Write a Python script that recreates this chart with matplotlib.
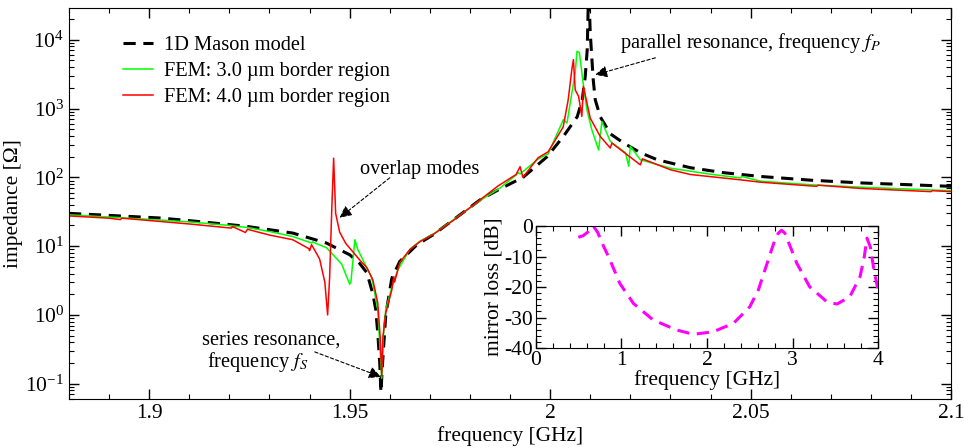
import matplotlib
matplotlib.use("Agg")
import matplotlib.pyplot as plt
from matplotlib.ticker import MultipleLocator, FuncFormatter, LogLocator

plt.rcParams['font.family'] = ['Liberation Serif', 'DejaVu Serif']
plt.rcParams['mathtext.fontset'] = 'stix'
plt.rcParams['axes.unicode_minus'] = False
plt.rcParams['font.size'] = 15.5

# 1D Mason model (frequency in GHz, impedance in Ohm)
mason_f = [1.880, 1.890, 1.9025, 1.910, 1.924, 1.9358, 1.9442, 1.950,
           1.9525, 1.9543, 1.9558, 1.9565, 1.957, 1.9575, 1.9578, 1.9582, 1.9587, 1.959,
           1.9605, 1.9625, 1.9668, 1.9708, 1.9758, 1.9825, 1.9875, 1.99325, 1.99925, 2.00325,
           2.00675, 2.008, 2.00875, 2.00925, 2.0096, 2.010, 2.01075, 2.01125, 2.0125, 2.015,
           2.01825, 2.0225, 2.02675, 2.035, 2.04325, 2.0525, 2.065, 2.0775, 2.090, 2.100]
mason_z = [30, 28, 25.7, 23.5, 19.5, 15.5, 11.1, 7.5,
           5.6, 4.1, 2.0, 1.2, 0.55, 0.2, 0.075, 0.2, 0.55, 1.0,
           3.4, 6.0, 10.5, 14.6, 24, 47, 68, 100, 200, 390,
           760, 1340, 2900, 7200, 60000, 12600, 2600, 1340, 760, 430,
           318, 228, 180, 138, 117, 103, 91, 83, 78, 74]

# FEM: 3.0 um border region
fem3_f = [1.880, 1.890, 1.9025, 1.910, 1.920, 1.925, 1.930, 1.9358, 1.9405, 1.9408,
          1.9415, 1.9442, 1.948, 1.9500, 1.9503, 1.9513, 1.952, 1.9535, 1.9555, 1.957,
          1.9576, 1.958, 1.9584, 1.959, 1.9605, 1.962, 1.965, 1.9675, 1.971, 1.976,
          1.9825, 1.9875, 1.9915, 1.992, 1.9925, 1.997, 1.9995, 2.0033, 2.0042, 2.005,
          2.00625, 2.0067, 2.0073, 2.00833, 2.00917, 2.0104, 2.0121, 2.0129, 2.015, 2.0188,
          2.0196, 2.0200, 2.0225, 2.030, 2.040, 2.0475, 2.0478, 2.0525, 2.065, 2.0775,
          2.094, 2.100]
fem3_z = [28.5, 26.5, 24, 22.5, 20, 18.5, 16.3, 13.8, 11.1, 11.6,
          11.0, 9.5, 5.5, 2.8, 3.0, 12.4, 9, 6, 3.5, 1.2,
          0.3, 0.12, 0.5, 1.2, 2.5, 4.5, 9, 11.8, 15.2, 24.5,
          46, 70, 108, 118, 112, 185, 220, 690, 617, 1200,
          3300, 6800, 6500, 2100, 960, 490, 250, 650, 333, 228,
          145, 283, 180, 136, 111, 98, 103, 88, 78, 72,
          66, 64]

# FEM: 4.0 um border region
fem4_f = [1.880, 1.890, 1.8928, 1.8932, 1.9025, 1.910, 1.9205, 1.9208, 1.924, 1.9245,
          1.930, 1.9358, 1.9398, 1.9400, 1.9405, 1.9425, 1.9438, 1.9445, 1.9450, 1.9455,
          1.9460, 1.9465, 1.9475, 1.949, 1.9525, 1.9543, 1.9558, 1.9570, 1.9576, 1.958,
          1.9583, 1.959, 1.9605, 1.961, 1.9612, 1.9625, 1.965, 1.9675, 1.971, 1.976,
          1.9825, 1.987, 1.9915, 1.9925, 1.9932, 1.997, 1.9995, 2.00325, 2.0045, 2.0054,
          2.0058, 2.00625, 2.0071, 2.0079, 2.0083, 2.010, 2.0125, 2.015, 2.0154, 2.0225,
          2.0230, 2.030, 2.035, 2.0475, 2.0525, 2.0665, 2.0668, 2.0775, 2.095, 2.0953,
          2.100]
fem4_z = [27.5, 25.5, 24.3, 25.5, 22.9, 21, 18.3, 19.2, 15.8, 17.6,
          14.5, 12.4, 9.2, 8.6, 10.5, 6.5, 3.0, 1.0, 3.5, 30,
          190, 30, 16, 11, 6.3, 4.85, 3.2, 1.5, 0.48, 0.13,
          0.48, 1.07, 2.3, 3.6, 3.0, 5.8, 8.9, 11.6, 15, 24,
          47, 75, 110, 143, 100, 193, 235, 540, 1340, 3660,
          5150, 1870, 1500, 770, 2100, 725, 393, 267, 315, 152,
          186, 129, 110, 92, 85, 74, 77, 69, 62, 64,
          62]

# inset: mirror loss
mirror_f = [0.495, 0.55, 0.61, 0.67, 0.72, 0.78, 0.865, 0.98, 1.14, 1.37,
            1.645, 1.84, 2.07, 2.31, 2.50, 2.60, 2.70, 2.78, 2.83, 2.87,
            2.91, 2.97, 3.05, 3.20, 3.40, 3.52, 3.67, 3.79, 3.84, 3.87,
            3.91, 3.95, 4.0]
mirror_db = [-3.7, -3.2, -1.9, 0.0, -2.0, -6.0, -11.1, -18.8, -25.4, -30.8,
             -34.1, -35.5, -34.7, -31.9, -26.5, -21.0, -12.5, -5.7, -2.5, -1.4,
             -2.3, -6.5, -12.2, -19.9, -24.8, -25.6, -23.2, -16.6, -10.0, -4.0,
             -6.8, -14.0, -21.0]

x_ticks = [1.9, 1.95, 2.0, 2.05, 2.1]

fig = plt.figure(figsize=(9.64, 4.48), dpi=100)
ax = fig.add_axes([0.0716, 0.1094, 0.915, 0.8728])

ax.plot(mason_f, mason_z, color='black', lw=2.2, dashes=(4, 2.5), label='1D Mason model')
ax.plot(fem3_f, fem3_z, color='#00ff00', lw=1.1, label='FEM: 3.0 µm border region')
ax.plot(fem4_f, fem4_z, color='#ff0000', lw=1.1, label='FEM: 4.0 µm border region')

ax.set_yscale('log')
ax.set_xlim(1.88, 2.1)
ax.set_ylim(0.06, 2.9e4)
ax.set_xticks(x_ticks)
ax.xaxis.set_major_formatter(FuncFormatter(lambda v, p: '%g' % v))
ax.xaxis.set_minor_locator(MultipleLocator(0.01))
ax.yaxis.set_minor_locator(LogLocator(base=10, subs=range(2, 10), numticks=20))
ax.tick_params(which='both', direction='in', top=True, right=True)
ax.tick_params(which='major', length=7, width=1)
ax.tick_params(which='minor', length=3.5, width=0.8)
ax.set_xlabel('frequency [GHz]', labelpad=2)
ax.set_ylabel('impedance [Ω]', labelpad=2)

ax.legend(loc='upper left', bbox_to_anchor=(0.04, 0.975), frameon=False,
          handlelength=1.5, handletextpad=0.5, labelspacing=0.32, fontsize=14.7)

arr = dict(arrowstyle='-|>', linestyle=(0, (3, 2)), lw=0.8, color='black',
           mutation_scale=18, shrinkA=0, shrinkB=0)
ax.annotate('overlap modes', xy=(1.9525, 129), ha='left', va='center', fontsize=14.7)
ax.annotate('', xy=(1.9475, 25.9), xytext=(1.960, 98.6), arrowprops=arr)
ax.annotate('parallel resonance, frequency $f_P$', xy=(2.0175, 9000),
            ha='left', va='center', fontsize=14.7)
ax.annotate('', xy=(2.01125, 3100), xytext=(2.02625, 5470), arrowprops=arr)
ax.annotate('series resonance,', xy=(1.91325, 0.436), ha='left', va='center', fontsize=14.7)
ax.annotate('frequency $f_S$', xy=(1.9145, 0.209), ha='left', va='center', fontsize=14.7)
ax.annotate('', xy=(1.9578, 0.126), xytext=(1.9413, 0.29), arrowprops=arr)

ins = fig.add_axes([0.556, 0.2232, 0.3548, 0.2723])
ins.plot(mirror_f, mirror_db, color='#ff00ff', lw=2.2, dashes=(4, 2.5))
ins.set_xlim(0, 4)
ins.set_ylim(-40, 0)
ins.xaxis.set_major_locator(MultipleLocator(1))
ins.xaxis.set_minor_locator(MultipleLocator(0.2))
ins.yaxis.set_major_locator(MultipleLocator(10))
ins.yaxis.set_minor_locator(MultipleLocator(2))
ins.tick_params(which='both', direction='in', top=True, right=True, pad=2)
ins.tick_params(which='major', length=7, width=1)
ins.tick_params(which='minor', length=3.5, width=0.8)
ins.set_xlabel('frequency [GHz]', labelpad=0)
ins.set_ylabel('mirror loss [dB]', labelpad=1)

fig.savefig('out.png', dpi=100)
